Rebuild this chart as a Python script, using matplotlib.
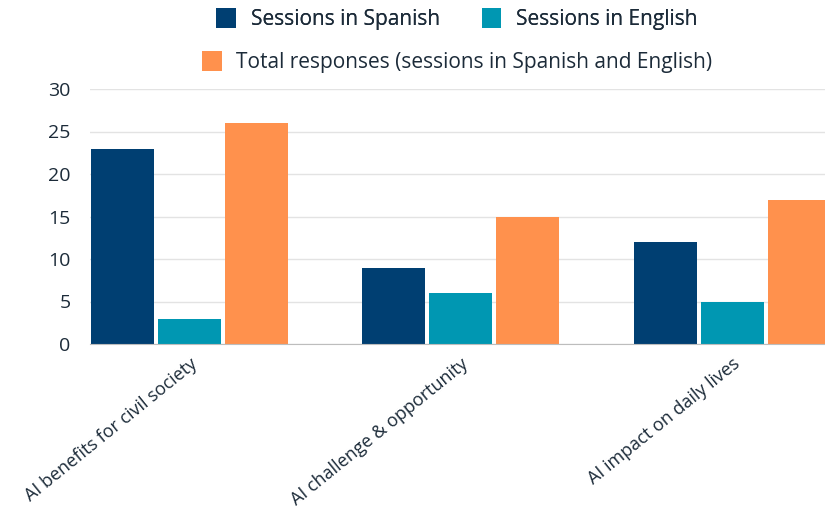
import matplotlib.pyplot as plt
import numpy as np

categories = ['AI benefits for civil society', 'AI challenge & opportunity', 'AI impact on daily lives']
spanish = [23, 9, 12]
english = [3, 6, 5]
total = [26, 15, 17]

plt.rcParams['font.family'] = ['Open Sans', 'DejaVu Sans']
text_col = '#1c2b39'

fig = plt.figure(figsize=(8.25, 5.14), dpi=100)
ax = fig.add_axes([90 / 825, 1 - 344 / 514, 1 - 90 / 825, (344 - 89) / 514])

x = np.arange(len(categories))
w = 0.232
step = 0.247
b1 = ax.bar(x - step, spanish, w, color='#003f72', label='Sessions in Spanish', zorder=3)
b2 = ax.bar(x, english, w, color='#0097b2', label='Sessions in English', zorder=3)
b3 = ax.bar(x + step, total, w, color='#ff914d',
            label='Total responses (sessions in Spanish and English)', zorder=3)

ax.set_xlim(-0.366, 2.341)
ax.set_ylim(0, 30)
ax.set_yticks(range(0, 31, 5))
ax.grid(axis='y', color='#e3e3e3', linewidth=1, zorder=0)
for s in ['top', 'right', 'left']:
    ax.spines[s].set_visible(False)
ax.spines['bottom'].set_color('#bdbdbd')
ax.spines['bottom'].set_zorder(4)
ax.tick_params(axis='y', length=0, labelsize=14, colors=text_col, pad=14)
ax.set_xticks(x)
ax.set_xticklabels(categories, rotation=39, ha='right', rotation_mode='anchor')
ax.tick_params(axis='x', length=0, labelsize=13, colors=text_col, pad=8)

leg1 = fig.legend(handles=[b1, b2], loc='center', bbox_to_anchor=(457 / 825, 1 - 19 / 514),
                  ncol=2, frameon=False, fontsize=15, handlelength=0.95, handleheight=1.15,
                  columnspacing=2.0, handletextpad=0.7, labelcolor=text_col)
leg2 = fig.legend(handles=[b3], loc='center', bbox_to_anchor=(457 / 825, 1 - 62 / 514),
                  frameon=False, fontsize=15, handlelength=0.95, handleheight=1.15,
                  handletextpad=0.7, labelcolor=text_col)
fig.add_artist(leg1)

fig.savefig('out.png', dpi=100)
